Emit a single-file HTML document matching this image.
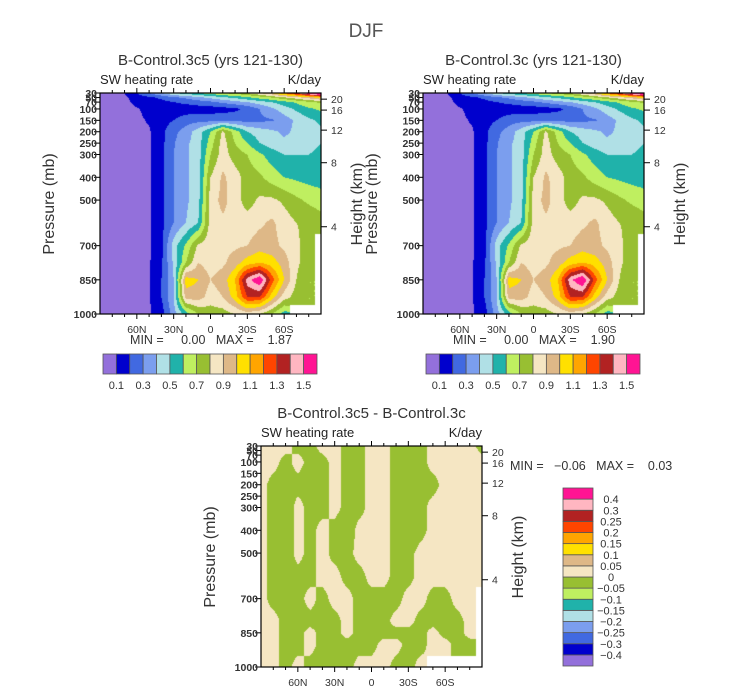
<!DOCTYPE html>
<html><head><meta charset="utf-8">
<style>
html,body{margin:0;padding:0;background:#fff;}
#root{position:relative;width:733px;height:691px;overflow:hidden;font-family:"Liberation Sans",sans-serif;}
canvas{position:absolute;}
svg{position:absolute;left:0;top:0;}
svg text{white-space:pre;}
</style></head>
<body>
<div id="root">
<canvas id="cA" width="221" height="221" style="left:100px;top:93px"></canvas>
<canvas id="cB" width="221" height="221" style="left:423px;top:93px"></canvas>
<canvas id="cD" width="221" height="221" style="left:261px;top:446px"></canvas>
<svg id="ov" width="733" height="691"></svg>
</div>
<script>
// ---- data ----
const lats = [90,80,70,60,50,40,30,20,10,0,-10,-20,-30,-40,-50,-60,-70,-80,-90];
const pLevels = [30,50,70,100,150,200,250,300,400,500,600,700,775,850,925,1000];
const N = NaN;
const fieldA = [
 [.05,.05,.1,.2,.3,.4,.5,.55,.6,.65,.7,.75,.8,.9,1.0,1.2,1.4,1.6,1.8],
 [.05,.05,.08,.15,.18,.22,.28,.32,.38,.42,.48,.52,.58,.64,.7,.78,.86,.95,1.05],
 [.05,.05,.07,.13,.15,.17,.2,.22,.25,.28,.32,.36,.4,.45,.5,.56,.62,.68,.72],
 [.05,.05,.07,.09,.13,.15,.15,.15,.15,.15,.16,.18,.22,.3,.38,.45,.52,.58,.62],
 [.05,.05,.06,.08,.11,.16,.2,.25,.27,.27,.27,.27,.27,.28,.29,.35,.42,.48,.52],
 [.05,.05,.06,.08,.09,.17,.27,.35,.45,.6,.82,.65,.5,.45,.42,.38,.42,.45,.48],
 [.05,.05,.06,.08,.09,.17,.29,.38,.45,.65,.85,.7,.6,.5,.45,.42,.45,.47,.5],
 [.05,.05,.06,.08,.09,.17,.3,.38,.45,.7,.85,.75,.7,.62,.55,.5,.5,.5,.52],
 [.05,.05,.06,.08,.09,.17,.3,.38,.45,.8,.92,.85,.75,.72,.65,.6,.58,.56,.55],
 [.05,.05,.06,.08,.09,.17,.3,.38,.46,.85,.93,.85,.75,.82,.82,.78,.72,.68,.65],
 [.05,.05,.06,.08,.09,.17,.3,.4,.5,.85,.88,.87,.85,.88,.92,.85,.8,.78,.75],
 [.05,.05,.06,.08,.09,.17,.45,.62,.82,.86,.87,.88,.9,.95,.93,.88,.82,.75,N],
 [.05,.05,.06,.08,.09,.18,.42,.7,.9,.85,.88,.95,1.05,1.1,1.05,.95,.82,.75,N],
 [.05,.05,.06,.08,.09,.2,.4,1.05,1.0,.9,.95,1.1,1.45,1.6,1.25,1.0,.8,.7,N],
 [.05,.05,.06,.08,.09,.2,.4,.95,.95,.85,.9,1.05,1.3,1.3,1.05,.85,.75,.7,N],
 [.05,.05,.06,.07,.09,.15,.35,.55,.7,.75,.75,.8,.85,.8,.7,.55,N,N,N]
];
const fieldB = [
 [.05,.05,.1,.2,.3,.4,.5,.55,.6,.65,.7,.75,.8,.9,1.0,1.2,1.4,1.6,1.8],
 [.05,.05,.08,.15,.18,.22,.28,.32,.38,.42,.48,.52,.58,.64,.7,.78,.86,.95,1.05],
 [.05,.05,.07,.13,.15,.17,.2,.22,.25,.28,.32,.36,.4,.45,.5,.56,.62,.68,.72],
 [.05,.05,.07,.09,.13,.15,.15,.15,.15,.15,.16,.18,.22,.3,.38,.45,.52,.58,.62],
 [.05,.05,.06,.08,.11,.16,.2,.25,.27,.27,.27,.27,.27,.28,.29,.35,.42,.48,.52],
 [.05,.05,.06,.08,.09,.17,.27,.35,.45,.6,.82,.65,.5,.45,.42,.38,.42,.45,.48],
 [.05,.05,.06,.08,.09,.17,.29,.38,.45,.65,.85,.7,.6,.5,.45,.42,.45,.47,.5],
 [.05,.05,.06,.08,.09,.17,.3,.38,.45,.7,.85,.75,.7,.62,.55,.5,.5,.5,.52],
 [.05,.05,.06,.08,.09,.17,.3,.38,.45,.8,.92,.85,.75,.72,.65,.6,.58,.56,.55],
 [.05,.05,.06,.08,.09,.17,.3,.38,.46,.85,.93,.85,.75,.82,.82,.78,.72,.68,.65],
 [.05,.05,.06,.08,.09,.17,.3,.4,.5,.85,.88,.87,.85,.88,.92,.85,.8,.78,.75],
 [.05,.05,.06,.08,.09,.17,.45,.62,.82,.86,.87,.88,.9,.95,.93,.88,.82,.75,N],
 [.05,.05,.06,.08,.09,.18,.42,.7,.9,.85,.88,.95,1.05,1.1,1.05,.95,.82,.75,N],
 [.05,.05,.06,.08,.09,.2,.4,1.05,1.0,.9,.95,1.1,1.47,1.62,1.25,1.0,.8,.7,N],
 [.05,.05,.06,.08,.09,.2,.4,.95,.95,.85,.9,1.05,1.3,1.3,1.05,.85,.75,.7,N],
 [.05,.05,.06,.07,.09,.15,.35,.55,.7,.75,.75,.8,.85,.8,.7,.55,N,N,N]
];
const pDiff = [30,100,200,300,400,500,600,700,800,850,900,1000];
const fieldD = [
 [.01,.01,.01,-.01,-.01,.01,.01,-.01,-.01,.01,.01,-.01,-.01,-.01,.01,.01,.01,.01,-.01],
 [.01,.01,-.01,.01,-.01,-.01,.01,-.01,-.01,.01,.01,-.01,-.01,-.01,.01,.01,.01,.01,.01],
 [.01,-.01,-.01,-.01,-.01,-.01,.01,-.01,-.01,.01,.01,-.01,-.02,-.01,-.01,.01,.01,.01,.01],
 [.01,-.01,-.02,.01,-.01,-.01,.01,-.01,-.01,.01,.01,-.01,-.02,-.01,.01,.01,.01,.01,.01],
 [.01,-.01,-.02,.01,-.01,.01,-.01,-.02,.01,.01,.01,-.01,-.02,-.01,.01,.01,.01,.01,.01],
 [.01,-.01,-.02,.01,-.01,.01,-.01,-.01,.01,.01,.01,-.01,-.01,.01,.01,.01,.01,.01,.01],
 [.01,-.01,-.01,-.01,-.01,.01,.01,-.01,-.01,.01,.01,-.01,-.01,.01,.01,.01,.01,.01,.01],
 [.01,-.01,-.01,-.01,.01,-.01,.01,.01,-.01,-.01,-.01,-.01,.01,.01,-.01,-.01,.01,.01,N],
 [.01,.01,-.01,-.01,-.01,-.01,-.01,.01,-.01,-.01,-.01,.01,.01,-.01,-.01,-.01,-.01,.01,N],
 [.01,.01,-.01,-.01,.01,-.01,-.01,.01,-.01,-.01,-.01,-.01,-.01,-.01,.01,-.01,-.01,.01,N],
 [.01,.01,-.01,-.01,.01,-.01,-.01,-.01,-.01,-.01,.01,.01,-.01,-.01,.01,.01,-.01,-.01,N],
 [.01,.01,-.01,.01,-.01,-.01,-.01,-.01,.01,.01,.01,-.01,-.01,.01,N,N,N,N,N]
];
const levelsMain = [0.1,0.2,0.3,0.4,0.5,0.6,0.7,0.8,0.9,1.0,1.1,1.2,1.3,1.4,1.5];
const mainLabels = ["0.1","0.3","0.5","0.7","0.9","1.1","1.3","1.5"];
const levelsDiff = [-0.4,-0.3,-0.25,-0.2,-0.15,-0.1,-0.05,0,0.05,0.1,0.15,0.2,0.25,0.3,0.4];
const diffLabels = ["-0.4","-0.3","-0.25","-0.2","-0.15","-0.1","-0.05","0","0.05","0.1","0.15","0.2","0.25","0.3","0.4"];
const colors = ['#9370DB','#0000CD','#4169E1','#7B9EEE','#B0E0E6','#20B2AA','#BFEF60','#98BF32','#F5E6C3','#DEB887','#FFE000','#FFA500','#FF4500','#B22222','#FFB6C1','#FF1493'];
const pTicks = [30,50,70,100,150,200,250,300,400,500,700,850,1000];
const latTicks = [60,30,0,-30,-60];
const latTickNames = ["60N","30N","0","30S","60S"];
const hTicks = [20,16,12,8,4];
const hTickP = [57,105,193,336,617];

// ---- helpers ----
const W=221,H=221,PTOP=30,PBOT=1000;
function yOf(p){return (p-PTOP)/(PBOT-PTOP)*H;}
function xOf(lat){return (90-lat)/180*W;}
function hex(c){return [parseInt(c.slice(1,3),16),parseInt(c.slice(3,5),16),parseInt(c.slice(5,7),16)];}
const rgb = colors.map(hex);
function colorIndex(v,lv){let i=0;while(i<lv.length&&v>=lv[i])i++;return i;}
function sample(field,plev,lat,p){
  const fx=(90-lat)/180*(lats.length-1);
  let r=0;while(r<plev.length-2&&p>plev[r+1])r++;
  const fy=Math.max(0,Math.min(1,(p-plev[r])/(plev[r+1]-plev[r])));
  const c=Math.min(lats.length-2,Math.floor(fx)),tx=fx-c;
  const nr=fy<0.5?r:r+1,nc=tx<0.5?c:c+1;
  if(isNaN(field[nr][nc]))return NaN;
  const pts=[[r,c,(1-fy)*(1-tx)],[r,c+1,(1-fy)*tx],[r+1,c,fy*(1-tx)],[r+1,c+1,fy*tx]];
  let s=0,w=0;for(const [a,b,ww] of pts){const v=field[a][b];if(!isNaN(v)){s+=v*ww;w+=ww;}}
  return w>0?s/w:NaN;
}
function drawField(id,field,plev,lv){
  const cv=document.getElementById(id),ctx=cv.getContext('2d');
  const img=ctx.createImageData(W,H);
  for(let y=0;y<H;y++){const p=PTOP+(y+0.5)/H*(PBOT-PTOP);
    for(let x=0;x<W;x++){const lat=90-(x+0.5)/W*180;
      const v=sample(field,plev,lat,p);const k=(y*W+x)*4;
      let c=[255,255,255];if(!isNaN(v))c=rgb[colorIndex(v,lv)];
      img.data[k]=c[0];img.data[k+1]=c[1];img.data[k+2]=c[2];img.data[k+3]=255;}}
  ctx.putImageData(img,0,0);
}
drawField('cA',fieldA,pLevels,levelsMain);
drawField('cB',fieldB,pLevels,levelsMain);
drawField('cD',fieldD,pDiff,levelsDiff);

const NS='http://www.w3.org/2000/svg',svg=document.getElementById('ov');
function mk(tag,attrs,parent){const e=document.createElementNS(NS,tag);for(const k in attrs)e.setAttribute(k,attrs[k]);(parent||svg).appendChild(e);return e;}
function txt(x,y,s,size,anchor,parent,extra){const t=mk('text',Object.assign({x:x,y:y,'font-size':size,'text-anchor':anchor||'start',fill:'#222','font-family':'Liberation Sans, sans-serif'},extra||{}),parent);t.textContent=s;return t;}

function panel(ox,oy,title,name){
  const g=mk('g',{});
  
  
  const t=txt(ox+110.5,oy-28,title,15,'middle',g,{fill:'#333'});
  
  
  const s=txt(ox,oy-9,'SW heating rate',13,'start',g);
  
  
  const u=txt(ox+W,oy-9,'K/day',13,'end',g);
  
  
  const fr=mk('rect',{x:ox,y:oy,width:W,height:H,fill:'none',stroke:'#000','stroke-width':1.2},g);
  
  
  for(const p of pTicks){const y=oy+yOf(p);
    mk('line',{x1:ox-6,x2:ox,y1:y,y2:y,stroke:'#000'},g);
    const l=txt(ox-3,y+4,String(p),10.5,'end',g,{'font-weight':'bold',fill:'#333'});
    
    }
  for(let lat=80;lat>=-80;lat-=10){const x=ox+xOf(lat);const big=lat%30===0;
    mk('line',{x1:x,x2:x,y1:oy+H,y2:oy+H+(big?5:3),stroke:'#000'},g);
    mk('line',{x1:x,x2:x,y1:oy,y2:oy-(big?5:3),stroke:'#000'},g);}
  latTicks.forEach((lat,i)=>{const l=txt(ox+xOf(lat),oy+H+19,latTickNames[i],10.5,'middle',g,{fill:'#333'});
    
    });
  hTicks.forEach((h,i)=>{const y=oy+yOf(hTickP[i]);
    mk('line',{x1:ox+W,x2:ox+W+6,y1:y,y2:y,stroke:'#000'},g);
    const l=txt(ox+W+10,y+4,String(h),10.5,'start',g,{fill:'#333'});
    
    });
  const yl=txt(0,0,'Pressure (mb)',16,'middle',g,{transform:`translate(${ox-46},${oy+111}) rotate(-90)`,fill:'#333'});
  
  
  const hl=txt(0,0,'Height (km)',16,'middle',g,{transform:`translate(${ox+W+41},${oy+111}) rotate(-90)`,fill:'#333'});
  
  
  return g;
}
function hbar(ox,oy,minmax){
  const g=mk('g',{});
  
  
  const mm=txt(ox+111,oy+251,minmax,12.5,'middle',g,{fill:'#333'});
  
  
  const bx=ox+3,bw=214/16;
  colors.forEach((c,i)=>{const r=mk('rect',{x:bx+i*bw,y:oy+261,width:bw,height:20,fill:c,stroke:'#555','stroke-width':0.8},g);
    
    });
  mainLabels.forEach((s,i)=>{const l=txt(bx+(2*i+1)*bw,oy+296,s,11,'middle',g,{fill:'#333'});
    
    });
}
const d=txt(366,37,'DJF',19,'middle',svg,{fill:'#555'});


panel(100,93,'B-Control.3c5 (yrs 121-130)','panel-3c5');
panel(423,93,'B-Control.3c (yrs 121-130)','panel-3c');
panel(261,446,'B-Control.3c5 - B-Control.3c','panel-difference');
hbar(100,93,'MIN =     0.00   MAX =    1.87');
hbar(423,93,'MIN =     0.00   MAX =    1.90');
const mm=txt(510,470,'MIN =   \u22120.06   MAX =    0.03',12.5,'start',svg,{fill:'#333'});


const vg=mk('g',{});


const vh=178/16;
colors.forEach((c,i)=>{const r=mk('rect',{x:563,y:666-(i+1)*vh,width:30,height:vh,fill:c,stroke:'#555','stroke-width':0.8},vg);
  
  });
diffLabels.forEach((s,i)=>{const l=txt(611,666-(i+1)*vh+4,s.replace('-','\u2212'),11,'middle',vg,{fill:'#333'});
  
  });
</script>
</body></html>
